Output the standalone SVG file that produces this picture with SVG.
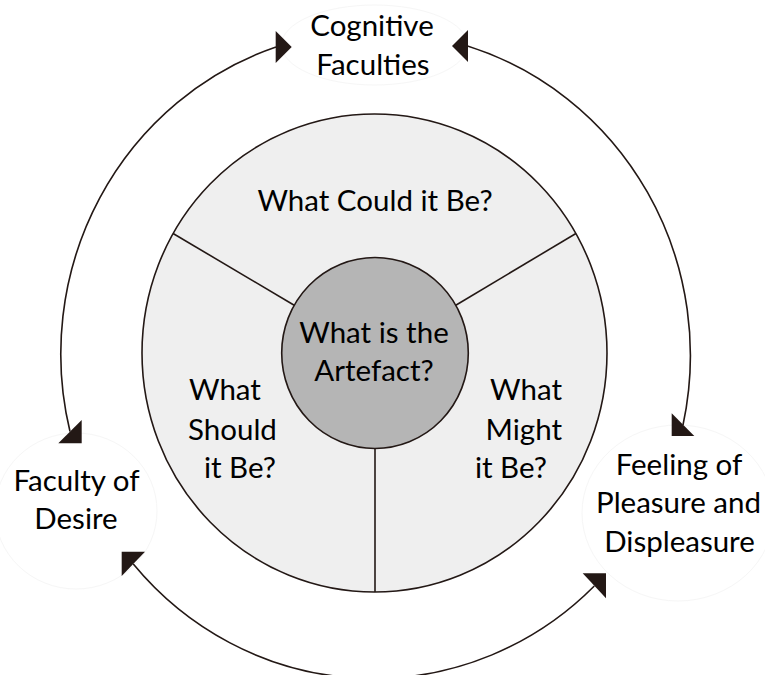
<svg xmlns="http://www.w3.org/2000/svg" width="765" height="675" viewBox="0 0 765 675">
<style>
  .lbl { font-family: Lato, "Liberation Sans", sans-serif; font-size: 29.5px; fill: #000000; }
  .mid { text-anchor: middle; }
  .end { text-anchor: end; }
  .ring { stroke: #231815; stroke-width: 1.6; }
  .faint { fill: none; stroke: #f6f6f6; stroke-width: 1; }
  .arc { fill: none; stroke: #231815; stroke-width: 1.6; }
  .head { fill: #231815; stroke: none; }
</style>
<rect width="765" height="675" fill="#ffffff"/>

<g id="wheel">
  <ellipse class="ring" cx="374.5" cy="353" rx="232.5" ry="239" fill="#efefef"/>
  <line class="ring" x1="173.1" y1="233.5" x2="294.2" y2="305.2"/>
  <line class="ring" x1="575.9" y1="233.5" x2="455.8" y2="305.2"/>
  <line class="ring" x1="375" y1="448" x2="375" y2="592"/>
</g>

<g id="could">
  <text class="lbl mid" x="375" y="211">What Could it Be?</text>
</g>

<g id="should">
  <text class="lbl" x="189" y="400">What</text>
  <text class="lbl" x="188" y="440">Should</text>
  <text class="lbl end" x="276" y="478">it Be?</text>
</g>

<g id="might">
  <text class="lbl end" x="562" y="400">What</text>
  <text class="lbl end" x="562" y="440">Might</text>
  <text class="lbl end" x="547" y="478">it Be?</text>
</g>

<g id="artefact">
  <ellipse class="ring" cx="375" cy="353" rx="93.3" ry="95.5" fill="#b5b5b5"/>
  <text class="lbl mid" x="374" y="343">What is the</text>
  <text class="lbl mid" x="374" y="381">Artefact?</text>
</g>

<g id="cognitive">
  <ellipse class="faint" cx="374.5" cy="45" rx="93" ry="40"/>
  <text class="lbl mid" x="372" y="36">Cognitive</text>
  <text class="lbl mid" x="373" y="75">Faculties</text>
</g>

<g id="desire">
  <ellipse class="faint" cx="76" cy="511" rx="81" ry="78"/>
  <text class="lbl mid" x="76.5" y="491">Faculty of</text>
  <text class="lbl mid" x="76" y="529">Desire</text>
</g>

<g id="feeling">
  <ellipse class="faint" cx="678" cy="513" rx="96" ry="88"/>
  <text class="lbl mid" x="679" y="475">Feeling of</text>
  <text class="lbl mid" x="678.5" y="513">Pleasure and</text>
  <text class="lbl mid" x="679.5" y="552">Displeasure</text>
</g>

<g id="connectors">
  <path class="arc" d="M 70 431.5 A 315 323.5 0 0 1 276 47"/>
  <path class="arc" d="M 467.5 46 A 315 323.5 0 0 1 683 425"/>
  <path class="arc" d="M 594.3 586 A 315 323.5 0 0 1 133.3 564"/>
  <polygon class="head" points="275.7,31 291.7,47 275.7,63"/>
  <polygon class="head" points="468,30 452,46 468,62"/>
  <polygon class="head" points="671.7,413.3 694.3,436 671.7,436"/>
  <polygon class="head" points="81.7,420 81.7,443.3 58.3,443.3"/>
  <polygon class="head" points="121.7,551.7 145,551.7 121.7,576"/>
  <polygon class="head" points="582.7,573.3 606,573.3 606,598.3"/>
</g>
</svg>
